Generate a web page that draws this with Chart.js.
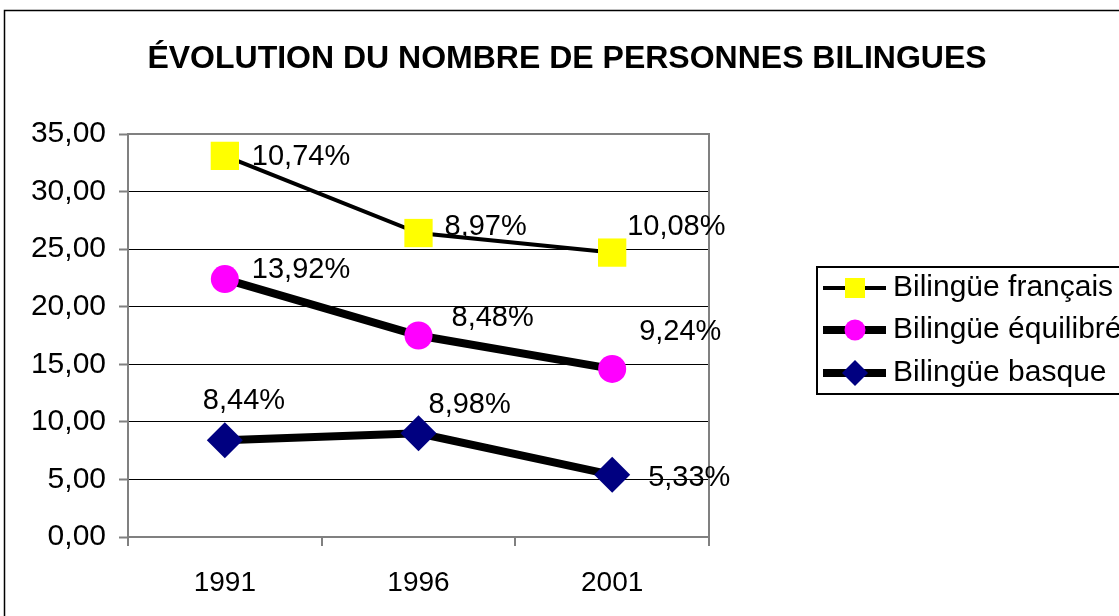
<!DOCTYPE html>
<html>
<head>
<meta charset="utf-8">
<script src="https://cdn.jsdelivr.net/npm/chart.js@4/dist/chart.umd.min.js"></script>
<style>
  html, body { margin: 0; padding: 0; background: #fff; }
  #wrap { width: 1119px; height: 616px; }
</style>
</head>
<body>
<div id="wrap"><canvas id="chart" width="1119" height="616"></canvas></div>
<script>
// données
const years = ['1991', '1996', '2001'];
const francais = [33.1, 26.4, 24.7];
const equilibre = [22.4, 17.5, 14.6];
const basque = [8.4, 9.0, 5.4];
const francaisLabels = ['10,74%', '8,97%', '10,08%'];
const equilibreLabels = ['13,92%', '8,48%', '9,24%'];
const basqueLabels = ['8,44%', '8,98%', '5,33%'];
const seriesNames = ['Bilingüe français', 'Bilingüe équilibré', 'Bilingüe basque'];
const titleText = 'ÉVOLUTION DU NOMBRE DE PERSONNES BILINGUES';

const FONT = "'Liberation Sans', Arial, sans-serif";

// décalages des étiquettes (placées à la main dans l'original)
const labelOffsets = [
  [[27, 1], [26, -6], [15, -26]],
  [[27, -9], [33, -18], [27, -37]],
  [[-22, -39], [10, -28], [36, 3]]
];

function fmt(v) {
  return v.toFixed(2).replace('.', ',');
}

const framePlugin = {
  id: 'frame',
  beforeDraw(chart) {
    const ctx = chart.ctx;
    ctx.save();
    ctx.fillStyle = '#fff';
    ctx.fillRect(0, 0, chart.width, chart.height);
    ctx.strokeStyle = '#000';
    ctx.lineWidth = 1.5;
    ctx.strokeRect(4.5, 10.5, 1200, 700);
    ctx.fillStyle = '#000';
    ctx.font = `bold 32px ${FONT}`;
    ctx.textAlign = 'center';
    ctx.textBaseline = 'middle';
    ctx.fillText(titleText, 567, 59);
    ctx.restore();
  },
  beforeDatasetsDraw(chart) {
    const a = chart.chartArea;
    const ctx = chart.ctx;
    ctx.save();
    ctx.strokeStyle = '#808080';
    ctx.lineWidth = 2;
    ctx.strokeRect(a.left, a.top, a.right - a.left, a.bottom - a.top);
    ctx.restore();
  }
};

const labelPlugin = {
  id: 'pctLabels',
  afterDatasetsDraw(chart) {
    const ctx = chart.ctx;
    const allLabels = [francaisLabels, equilibreLabels, basqueLabels];
    ctx.save();
    ctx.fillStyle = '#000';
    ctx.font = `29px ${FONT}`;
    ctx.textAlign = 'left';
    ctx.textBaseline = 'middle';
    chart.data.datasets.forEach((ds, i) => {
      const meta = chart.getDatasetMeta(i);
      meta.data.forEach((pt, j) => {
        const off = labelOffsets[i][j];
        ctx.fillText(allLabels[i][j], pt.x + off[0], pt.y + off[1]);
      });
    });
    ctx.restore();
  }
};

const legendPlugin = {
  id: 'boxLegend',
  afterDraw(chart) {
    const ctx = chart.ctx;
    ctx.save();
    ctx.strokeStyle = '#000';
    ctx.lineWidth = 2;
    ctx.strokeRect(817, 267, 400, 127);
    const rows = [288, 330, 373];
    chart.data.datasets.forEach((ds, i) => {
      const y = rows[i];
      ctx.strokeStyle = '#000';
      ctx.lineWidth = ds.borderWidth;
      ctx.beginPath();
      ctx.moveTo(823, y);
      ctx.lineTo(886, y);
      ctx.stroke();
      ctx.fillStyle = ds.pointBackgroundColor;
      ctx.beginPath();
      if (ds.pointStyle === 'rect') {
        ctx.rect(845, y - 10, 20, 20);
      } else if (ds.pointStyle === 'circle') {
        ctx.arc(855, y, 10.5, 0, Math.PI * 2);
      } else {
        ctx.moveTo(855 - 13, y);
        ctx.lineTo(855, y - 13);
        ctx.lineTo(855 + 13, y);
        ctx.lineTo(855, y + 13);
        ctx.closePath();
      }
      ctx.fill();
      ctx.fillStyle = '#000';
      ctx.font = `30px ${FONT}`;
      ctx.textAlign = 'left';
      ctx.textBaseline = 'middle';
      ctx.fillText(seriesNames[i], 893, y);
    });
    ctx.restore();
  }
};

new Chart(document.getElementById('chart').getContext('2d'), {
  type: 'line',
  data: {
    labels: years,
    datasets: [
      {
        label: seriesNames[0],
        data: francais,
        borderColor: '#000',
        borderWidth: 4,
        pointStyle: 'rect',
        pointRadius: 20,
        pointBackgroundColor: '#ffff00',
        pointBorderWidth: 0,
        tension: 0
      },
      {
        label: seriesNames[1],
        data: equilibre,
        borderColor: '#000',
        borderWidth: 8,
        pointStyle: 'circle',
        pointRadius: 14,
        pointBackgroundColor: '#ff00ff',
        pointBorderWidth: 0,
        tension: 0
      },
      {
        label: seriesNames[2],
        data: basque,
        borderColor: '#000',
        borderWidth: 8,
        pointStyle: 'rectRot',
        pointRadius: 18,
        pointBackgroundColor: '#000080',
        pointBorderWidth: 0,
        tension: 0
      }
    ]
  },
  options: {
    responsive: false,
    animation: false,
    devicePixelRatio: 1,
    layout: { padding: { top: 134, right: 410, bottom: 0, left: 0 } },
    plugins: {
      legend: { display: false },
      title: { display: false },
      tooltip: { enabled: false }
    },
    scales: {
      x: {
        offset: true,
        afterFit(scale) { scale.height = 79; },
        grid: { drawOnChartArea: false, drawTicks: true, tickLength: 9, color: '#808080', lineWidth: 2, offset: true },
        border: { display: true, color: '#808080', width: 2 },
        ticks: { color: '#000', font: { family: FONT, size: 28 }, padding: 20, maxRotation: 0 }
      },
      y: {
        min: 0,
        max: 35,
        afterFit(scale) { scale.width = 128; },
        grid: { color: '#000', lineWidth: 1, tickLength: 9, tickColor: '#808080', tickWidth: 2 },
        border: { display: true, color: '#808080', width: 2 },
        ticks: { stepSize: 5, color: '#000', font: { family: FONT, size: 30 }, padding: 13, callback: v => fmt(v) }
      }
    }
  },
  plugins: [framePlugin, labelPlugin, legendPlugin]
});
</script>
</body>
</html>
